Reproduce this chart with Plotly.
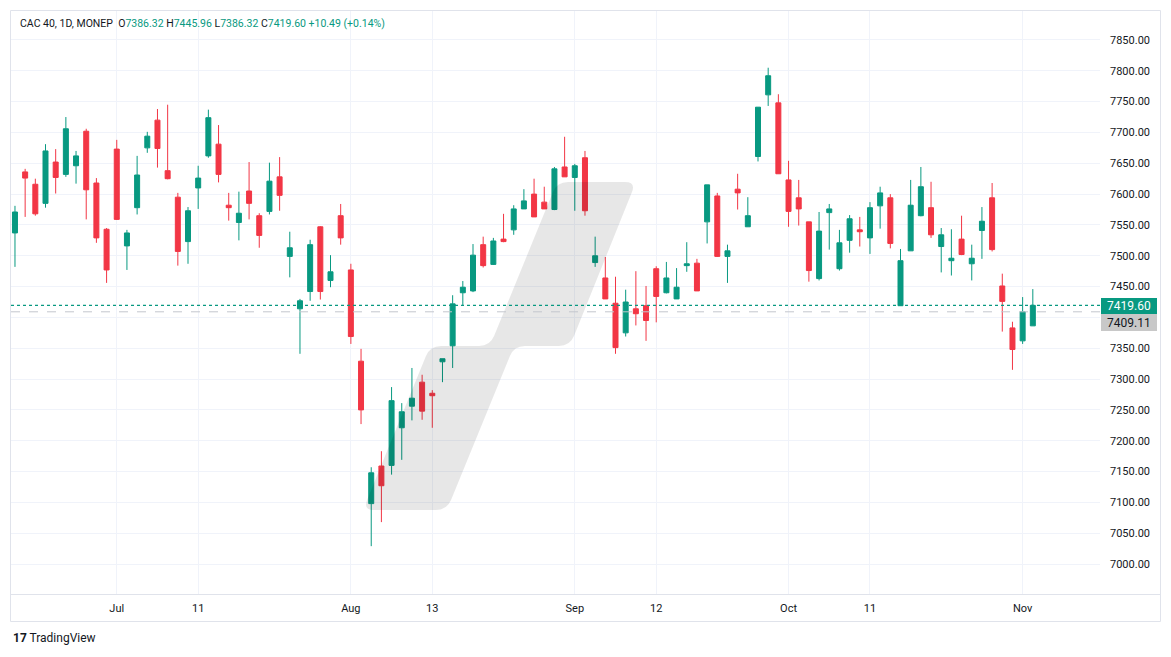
import math
import pandas as pd
import plotly.graph_objects as go

# ---------------- data ----------------
dates = [d.strftime("%Y-%m-%d") for d in pd.bdate_range("2024-06-17", "2024-11-04")]

opens = [7537, 7636, 7616, 7585, 7652, 7632, 7646, 7702, 7618, 7543,
         7673, 7516, 7578, 7675, 7720, 7638, 7595, 7523, 7610, 7662,
         7681, 7582, 7554, 7605, 7565, 7572, 7628, 7499, 7414, 7442,
         7547, 7460, 7565, 7477, 7329, 7098, 7159, 7160, 7221, 7256,
         7295, 7277, 7328, 7354, 7440, 7443, 7518, 7486, 7527, 7542,
         7576, 7600, 7587, 7575, 7644, 7627, 7659, 7489, 7464, 7423,
         7375, 7414, 7419, 7479, 7440, 7430, 7484, 7488, 7555, 7597,
         7499, 7608, 7547, 7661, 7761, 7748, 7623, 7594, 7555, 7463,
         7570, 7479, 7525, 7542, 7529, 7581, 7594, 7419, 7508, 7565,
         7578, 7515, 7492, 7527, 7487, 7541, 7594, 7451, 7383, 7362,
         7386.32]
highs = [7581, 7641, 7625, 7681, 7673, 7725, 7670, 7706, 7626, 7545,
         7688, 7542, 7662, 7701, 7738, 7745, 7602, 7579, 7646, 7737,
         7712, 7602, 7604, 7652, 7569, 7651, 7660, 7539, 7430, 7526,
         7548, 7501, 7584, 7487, 7349, 7157, 7183, 7287, 7261, 7318,
         7307, 7282, 7333, 7436, 7459, 7519, 7531, 7529, 7568, 7582,
         7608, 7625, 7612, 7644, 7693, 7649, 7670, 7531, 7498, 7466,
         7445, 7475, 7451, 7483, 7490, 7480, 7522, 7495, 7615, 7602,
         7518, 7633, 7595, 7741, 7805, 7762, 7654, 7623, 7555, 7571,
         7584, 7542, 7566, 7563, 7587, 7612, 7600, 7511, 7623, 7644,
         7620, 7545, 7543, 7565, 7518, 7579, 7618, 7471, 7393, 7433,
         7445.96]
lows = [7482, 7563, 7565, 7578, 7601, 7628, 7617, 7559, 7521, 7456,
        7558, 7477, 7567, 7667, 7643, 7624, 7484, 7487, 7576, 7659,
        7619, 7557, 7525, 7559, 7513, 7567, 7573, 7465, 7341, 7427,
        7429, 7449, 7518, 7357, 7227, 7029, 7068, 7145, 7169, 7233,
        7234, 7221, 7295, 7318, 7420, 7441, 7481, 7485, 7522, 7534,
        7576, 7563, 7576, 7574, 7628, 7573, 7565, 7482, 7430, 7341,
        7369, 7387, 7362, 7392, 7439, 7430, 7474, 7443, 7520, 7498,
        7456, 7575, 7547, 7653, 7743, 7633, 7547, 7549, 7458, 7460,
        7510, 7476, 7505, 7515, 7503, 7544, 7512, 7419, 7508, 7564,
        7529, 7473, 7468, 7501, 7460, 7495, 7507, 7377, 7315, 7357,
        7386.32]
closes = [7571, 7626, 7568, 7670, 7627, 7706, 7662, 7607, 7529, 7477,
          7559, 7537, 7631, 7694, 7674, 7625, 7507, 7573, 7626, 7724,
          7632, 7578, 7569, 7585, 7533, 7621, 7598, 7513, 7427, 7518,
          7442, 7474, 7529, 7369, 7250, 7148, 7127, 7265, 7247, 7269,
          7248, 7273, 7333, 7422, 7449, 7501, 7484, 7524, 7523, 7576,
          7589, 7563, 7576, 7641, 7628, 7646, 7573, 7500, 7430, 7351,
          7425, 7406, 7395, 7434, 7464, 7449, 7487, 7443, 7615, 7499,
          7508, 7602, 7565, 7741, 7792, 7633, 7572, 7576, 7476, 7540,
          7576, 7521, 7560, 7539, 7578, 7602, 7520, 7492, 7582, 7612,
          7534, 7534, 7496, 7502, 7496, 7556, 7510, 7426, 7348, 7409.11,
          7419.60]

tick_dates = ["2024-07-01", "2024-07-11", "2024-08-01", "2024-08-13", "2024-09-02",
              "2024-09-12", "2024-10-01", "2024-10-11", "2024-11-01"]
tick_labels = ["Jul", "11", "Aug", "13", "Sep", "12", "Oct", "11", "Nov"]

price_ticks = [7000, 7050, 7100, 7150, 7200, 7250, 7300, 7350, 7400,
               7450, 7500, 7550, 7600, 7650, 7700, 7750, 7800, 7850]
hidden_price_ticks = [7400]  # covered by the price labels in the reference

last_price = 7419.60
prev_close = 7409.11
header_open, header_high, header_low, header_close = "7386.32", "7445.96", "7386.32", "7419.60"
header_change = "+10.49 (+0.14%)"

# ---------------- styling ----------------
GREEN = "#089981"
RED = "#F23645"
TEXT = "#131722"
GRID = "#f0f3fa"
FONT = "Roboto"

W, H = 1171, 657
PL, PR, PT, PB = 11, 1100, 11, 594  # plot area in pixels


def px(x):
    return (x - PL) / (PR - PL)


def py(y):
    return (PB - y) / (PB - PT)


fig = go.Figure()
fig.add_trace(go.Candlestick(
    x=dates, open=opens, high=highs, low=lows, close=closes,
    increasing=dict(line=dict(color=GREEN, width=1), fillcolor=GREEN),
    decreasing=dict(line=dict(color=RED, width=1), fillcolor=RED),
    whiskerwidth=0, hoverinfo="skip", showlegend=False,
))

shapes = []
# watermark-like grey band (rounded parallelogram steps)
pts = [(363, 510), (447, 510), (514, 346), (570, 346), (636, 182),
       (557, 182), (490, 346), (430, 346)]
r = 11
path = ""
n = len(pts)
for i in range(n):
    p0 = pts[i - 1]
    p1 = pts[i]
    p2 = pts[(i + 1) % n]
    d1 = math.hypot(p1[0] - p0[0], p1[1] - p0[1])
    d2 = math.hypot(p2[0] - p1[0], p2[1] - p1[1])
    a = (p1[0] - (p1[0] - p0[0]) * r / d1, p1[1] - (p1[1] - p0[1]) * r / d1)
    b = (p1[0] + (p2[0] - p1[0]) * r / d2, p1[1] + (p2[1] - p1[1]) * r / d2)
    path += ("M" if i == 0 else "L") + f"{px(a[0]):.5f},{py(a[1]):.5f} "
    path += f"Q{px(p1[0]):.5f},{py(p1[1]):.5f} {px(b[0]):.5f},{py(b[1]):.5f} "
path += "Z"
shapes.append(dict(type="path", path=path, xref="paper", yref="paper",
                   fillcolor="rgba(0,0,0,0.095)", line=dict(width=0), layer="above"))

# last price dotted line & previous close dashed line
shapes.append(dict(type="line", xref="paper", yref="y", x0=0, x1=1,
                   y0=last_price, y1=last_price, line=dict(color=GREEN, width=1.3, dash="dot")))
shapes.append(dict(type="line", xref="paper", yref="y", x0=0, x1=1,
                   y0=prev_close, y1=prev_close, line=dict(color="#c3c6ce", width=1, dash="dash")))

# frame
frame = "#e0e3eb"
shapes.append(dict(type="rect", xref="paper", yref="paper", x0=px(10.5), x1=px(1160.5),
                   y0=py(621.5), y1=py(10.5), line=dict(color=frame, width=1), layer="below"))
shapes.append(dict(type="line", xref="paper", yref="paper", x0=px(10.5), x1=px(1160.5),
                   y0=py(594.5), y1=py(594.5), line=dict(color=frame, width=1)))

# price label boxes on the right axis
shapes.append(dict(type="rect", xref="paper", yref="paper", x0=px(1101), x1=px(1157),
                   y0=py(314), y1=py(298), fillcolor=GREEN, line=dict(width=0), layer="above"))
shapes.append(dict(type="rect", xref="paper", yref="paper", x0=px(1101), x1=px(1157),
                   y0=py(331), y1=py(314), fillcolor="#c8c8c8", line=dict(width=0), layer="above"))

annotations = []
annotations.append(dict(xref="paper", yref="paper", x=px(1129), y=py(306), text=f"{last_price:.2f}",
                        showarrow=False, font=dict(family=FONT, size=12, color="white"),
                        xanchor="center", yanchor="middle"))
annotations.append(dict(xref="paper", yref="paper", x=px(1129), y=py(323), text=f"{prev_close:.2f}",
                        showarrow=False, font=dict(family=FONT, size=12, color=TEXT),
                        xanchor="center", yanchor="middle"))

g = lambda s: f"<span style='color:{GREEN}'>{s}</span>"
header = ("CAC 40, 1D, MONEP  O" + g(header_open) + " H" + g(header_high) +
          " L" + g(header_low) + " C" + g(header_close) + " " + g(header_change))
annotations.append(dict(xref="paper", yref="paper", x=px(18), y=py(24), text=header,
                        showarrow=False, font=dict(family=FONT, size=10.5, color=TEXT),
                        xanchor="left", yanchor="middle"))
annotations.append(dict(xref="paper", yref="paper", x=px(11), y=py(638),
                        text="<b>17</b> TradingView", showarrow=False,
                        font=dict(family=FONT, size=12, color=TEXT),
                        xanchor="left", yanchor="middle"))

fig.update_layout(
    width=W, height=H,
    margin=dict(l=PL, r=W - PR, t=PT, b=H - PB),
    paper_bgcolor="white", plot_bgcolor="white",
    shapes=shapes, annotations=annotations,
    font=dict(family=FONT, size=11, color=TEXT),
    hovermode=False,
    xaxis=dict(type="category", range=[-0.39, 106.6], rangeslider=dict(visible=False),
               tickmode="array", tickvals=tick_dates, ticktext=tick_labels,
               showgrid=True, gridcolor=GRID, gridwidth=1, zeroline=False,
               showline=False, ticks="", ticklabelstandoff=6,
               tickfont=dict(family=FONT, size=11, color=TEXT)),
    yaxis=dict(side="right", range=[6951.4, 7897], tickmode="array",
               tickvals=price_ticks,
               ticktext=["" if v in hidden_price_ticks else f"{v:.2f}" for v in price_ticks],
               showgrid=True, gridcolor=GRID, gridwidth=1,
               zeroline=False, showline=False, ticks="", ticklabelstandoff=9,
               tickfont=dict(family=FONT, size=11, color=TEXT)),
)

fig.write_html("out.html")
